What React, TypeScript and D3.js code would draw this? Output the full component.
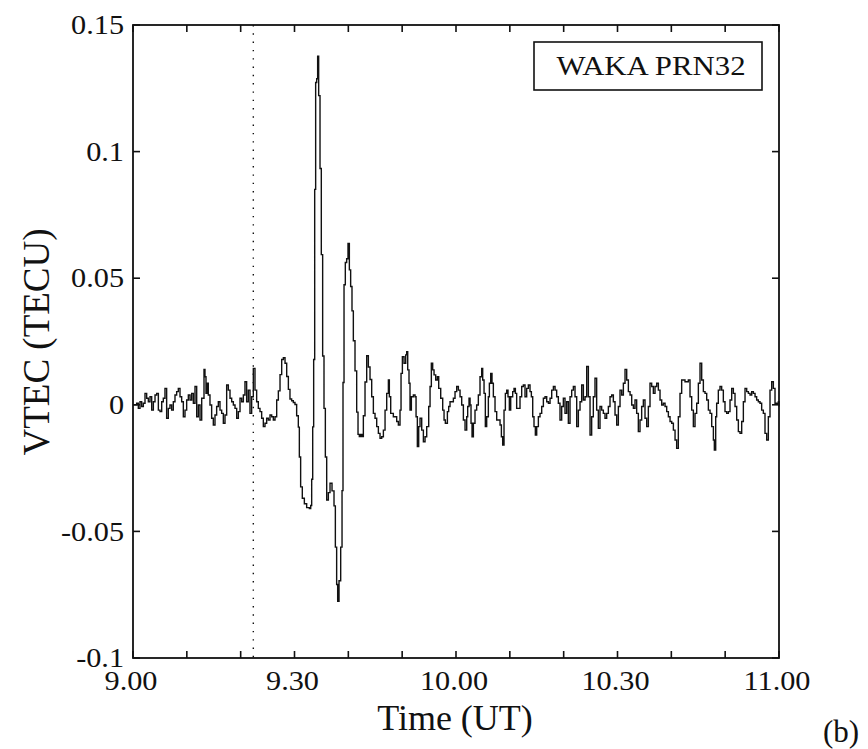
import React from "react";
import * as d3 from "d3";

// Time axis: minutes after 09:00 UT
const xTickMinutes = [0, 10, 20, 30, 40, 50, 60, 70, 80, 90, 100, 110, 120];
const xLabelMinutes = [0, 30, 60, 90, 120];
const xLabels = ["9.00", "9.30", "10.00", "10.30", "11.00"];
const yTickValues = [-0.1, -0.05, 0, 0.05, 0.1, 0.15];
const yLabels = ["-0.1", "-0.05", "0", "0.05", "0.1", "0.15"];
const eventMinute = 22.35;
const stationLabel = "WAKA PRN32";
const xTitle = "Time (UT)";
const yTitle = "VTEC (TECU)";
const panelLabel = "(b)";

// [minutes after 09:00, VTEC (TECU)]
const quietBefore: [number, number][] = [
  [0.0, 0.0], [0.68, 0.0006], [0.99, -0.0014], [1.3, 0.0012], [1.61, -0.0007], [1.92, 0.0006],
  [2.23, 0.0045], [2.54, 0.0026], [2.85, 0.0012], [3.16, 0.0032], [3.47, -0.0021], [3.78, 0.0012],
  [4.09, 0.0039], [4.4, 0.0045], [4.71, -0.0021], [5.02, -0.0027], [5.33, 0.0012], [5.63, 0.0026],
  [5.94, 0.0065], [6.25, -0.0053], [6.56, -0.0014], [6.87, -0.0001], [7.18, -0.0021], [7.49, 0.0012],
  [7.8, 0.0039], [8.11, 0.0052], [8.42, 0.0065], [8.73, 0.0032], [9.04, 0.0012], [9.35, -0.0047],
  [9.66, -0.0021], [9.97, 0.0019], [10.28, 0.0039], [10.59, 0.0019], [10.9, 0.0045], [11.21, 0.0006],
  [11.52, 0.0072], [11.83, -0.0047], [12.14, -0.0001], [12.45, -0.006], [12.76, 0.0026], [13.19, 0.014],
  [13.37, 0.0111], [13.56, 0.0045], [13.81, 0.0085], [13.99, 0.0039], [14.3, -0.0001], [14.61, -0.0053],
  [14.92, -0.008], [15.23, -0.004], [15.54, -0.0007], [15.85, 0.0012], [16.16, -0.0021], [16.47, -0.0034],
  [16.78, -0.0073], [17.09, -0.004], [17.4, 0.0078], [17.71, 0.0058], [18.02, 0.0026], [18.33, 0.0012],
  [18.64, -0.0001], [18.95, -0.0014], [19.26, -0.0053], [19.57, -0.0027], [19.88, 0.0026], [20.19, 0.0012],
  [20.5, 0.0039], [20.8, 0.0091], [21.11, 0.0012], [21.42, 0.0058], [21.73, -0.0034], [22.04, 0.0032],
  [22.35, 0.0144], [22.66, 0.0058], [22.97, 0.0012], [23.28, -0.0014], [23.59, -0.0027], [23.9, -0.0053],
  [24.21, -0.0086], [24.52, -0.0073], [24.83, -0.0053], [25.14, -0.006], [25.45, -0.004], [25.76, -0.0047],
  [26.07, -0.006], [26.38, -0.0047], [26.69, 0.0019],
];

const disturbance: [number, number][] = [
  [27.0, 0.0055], [27.31, 0.0119], [27.62, 0.0179], [27.93, 0.0186], [28.24, 0.0164], [28.55, 0.0112],
  [28.86, 0.0061], [29.16, 0.0023], [29.47, 0.0016], [29.78, 0.0009], [30.09, 0.0001], [30.4, -0.0043],
  [30.71, -0.0088], [30.9, -0.0206], [31.14, -0.0324], [31.45, -0.0369], [31.83, -0.0391], [32.26, -0.0406],
  [32.76, -0.041], [33.01, -0.0398], [33.19, -0.0294], [33.38, -0.0087], [33.56, 0.0179], [33.75, 0.0851],
  [33.93, 0.1273], [34.12, 0.1288], [34.3, 0.1377], [34.49, 0.1221], [34.74, 0.0933], [34.98, 0.0593],
  [35.23, 0.0193], [35.48, -0.0014], [35.73, -0.0206], [35.98, -0.0376], [36.29, -0.0347], [36.6, -0.031],
  [36.97, -0.034], [37.34, -0.0399], [37.59, -0.0562], [37.83, -0.071], [38.02, -0.0776], [38.27, -0.0695],
  [38.58, -0.0562], [38.83, -0.0339], [39.01, 0.0088], [39.2, 0.0474], [39.44, 0.0562], [39.69, 0.0577],
  [39.94, 0.0637], [40.19, 0.0533], [40.43, 0.0467], [40.68, 0.0371], [40.93, 0.0253], [41.24, 0.0134],
  [41.55, -0.0029], [41.8, -0.0117], [42.04, -0.0125], [42.29, -0.0117], [42.54, -0.0125], [42.79, -0.0043],
  [43.1, 0.009], [43.41, 0.0194], [43.72, 0.0149],
];

const recoveryPhase: [number, number][] = [
  [44.03, 0.01], [44.34, 0.0032], [44.65, -0.0034], [44.96, -0.0053], [45.27, -0.0086], [45.58, -0.0113],
  [45.89, -0.0132], [46.2, -0.0126], [46.51, -0.01], [46.82, -0.0021], [47.13, 0.0045], [47.44, 0.0098],
  [47.62, 0.0032], [47.87, -0.0034], [48.36, -0.0047], [48.98, -0.0066], [49.29, -0.008], [49.6, -0.0021],
  [49.79, 0.0124], [50.04, 0.019], [50.35, 0.0164], [50.66, 0.0197], [50.84, 0.021], [51.03, 0.0138],
  [51.27, 0.0085], [51.46, -0.0021], [51.71, 0.0032], [52.08, 0.0039], [52.39, 0.0032], [52.58, -0.0047],
  [52.82, -0.0165], [53.07, -0.0086], [53.32, -0.0053], [53.63, -0.01], [53.94, -0.0146], [54.25, -0.0126],
  [54.56, -0.0086], [54.93, -0.0007], [55.18, 0.0072], [55.42, 0.0164], [55.67, 0.0138], [55.92, 0.0118],
  [56.23, 0.0098], [56.54, 0.0111], [56.79, 0.0065], [57.16, 0.0026], [57.53, -0.0021], [57.78, -0.006],
  [58.02, -0.0073], [58.4, -0.0027], [58.64, -0.0007], [58.89, 0.0012], [59.2, 0.0012], [59.51, 0.0026],
  [59.82, 0.0052], [60.13, 0.0072], [60.44, 0.0058], [60.75, 0.0032], [61.06, -0.0001], [61.37, -0.006],
  [61.68, -0.01], [61.99, -0.0047], [62.17, -0.0007], [62.42, 0.0026], [62.61, -0.0001], [62.79, -0.0073],
  [62.98, -0.0126], [63.23, -0.0073], [63.53, -0.0021], [63.84, -0.0001], [64.15, 0.0039], [64.46, 0.0111],
  [64.77, 0.0144], [64.96, 0.0098], [65.21, 0.0045], [65.45, -0.0086], [65.7, -0.0047], [66.01, 0.0032],
  [66.2, 0.0085], [66.45, 0.0124], [66.69, 0.0085], [66.94, 0.0032], [67.25, -0.0027], [67.56, -0.006],
  [67.87, -0.006], [68.18, -0.008], [68.43, -0.0126], [68.67, -0.0159], [68.92, -0.0021], [69.17, 0.0045],
  [69.42, 0.0058], [69.66, 0.0032], [69.91, -0.0021], [70.16, 0.0032], [70.53, 0.0052], [70.78, 0.0065],
  [71.03, 0.0045], [71.27, -0.0014], [71.58, -0.0014], [71.89, 0.0032], [72.2, 0.0072], [72.51, 0.0078],
  [72.82, 0.0032], [73.13, 0.0065], [73.44, 0.0078], [73.75, 0.0052], [74.0, 0.0032], [74.25, -0.0047],
  [74.49, -0.0086], [74.74, -0.0119], [74.99, -0.0086], [75.3, -0.0047], [75.61, -0.0034], [75.92, -0.0007],
  [76.23, 0.0026], [76.54, 0.0032], [76.85, 0.0012], [77.16, 0.0006], [77.47, 0.0026], [77.78, 0.0058],
  [78.09, 0.0072], [78.4, 0.0058], [78.7, 0.0032], [79.01, 0.0006], [79.32, -0.006], [79.63, -0.0007],
  [79.94, 0.0026], [80.25, -0.0034], [80.56, 0.0012], [80.87, -0.0073],
];

const lateQuiet: [number, number][] = [
  [81.18, 0.0032], [81.49, 0.0058], [81.8, 0.0072], [82.11, 0.0032], [82.42, -0.0086], [82.73, -0.0021],
  [83.04, 0.0012], [83.35, 0.0078], [83.66, 0.0019], [83.97, 0.0032], [84.28, 0.0151], [84.59, 0.0032],
  [84.9, -0.0119], [85.2, -0.0047], [85.51, 0.0032], [85.82, 0.0105], [86.13, -0.0021], [86.44, -0.0093],
  [86.75, -0.0007], [87.06, -0.0021], [87.37, -0.0034], [87.68, -0.0053], [87.99, -0.0034], [88.3, -0.0007],
  [88.61, 0.0032], [88.92, 0.0039], [89.23, 0.0012], [89.54, -0.004], [89.85, -0.008], [90.16, -0.0007],
  [90.47, 0.0058], [90.78, 0.0039], [91.09, 0.0085], [91.4, 0.014], [91.71, 0.0098], [92.02, 0.0052],
  [92.33, 0.0039], [92.64, -0.0001], [92.95, -0.0014], [93.25, 0.0019], [93.56, -0.0034], [93.87, -0.0106],
  [94.18, -0.006], [94.49, -0.0007], [94.8, 0.0019], [95.11, -0.0053], [95.42, -0.0086], [95.73, -0.0007],
  [96.04, 0.0085], [96.35, 0.0072], [96.66, 0.0045], [96.97, 0.0072], [97.28, 0.0085], [97.59, 0.0058],
  [97.9, 0.0019], [98.21, -0.0001], [98.52, 0.0006], [98.83, -0.0007], [99.14, -0.0027], [99.45, -0.0047],
  [99.76, -0.0066], [100.07, -0.0073], [100.38, -0.01], [100.69, -0.0139], [100.99, -0.0172], [101.3, -0.0047],
  [101.61, 0.0045], [101.92, 0.0098], [102.23, 0.0098], [102.54, 0.0091], [102.85, 0.0091], [103.16, 0.0098],
  [103.47, 0.0032], [103.78, -0.0021], [104.09, -0.0086], [104.4, -0.0034], [104.71, 0.0006], [105.02, 0.0085],
  [105.33, 0.0164], [105.64, 0.0098], [105.95, 0.0052], [106.26, 0.0045], [106.57, 0.0019], [106.88, -0.0021],
  [107.19, -0.0034], [107.5, -0.0086], [107.81, -0.0139], [107.99, -0.0179], [108.24, -0.0047], [108.42, 0.0006],
  [108.73, 0.0058], [109.04, 0.0072], [109.35, 0.0058], [109.66, 0.0012], [109.97, -0.0027], [110.28, -0.0034],
  [110.59, -0.0027], [110.9, 0.0019], [111.21, 0.0065], [111.52, 0.0045], [111.83, -0.0007], [112.14, -0.006],
  [112.45, -0.0106], [112.76, -0.0113], [113.07, -0.0066], [113.38, 0.0012], [113.69, 0.0065], [114.0, 0.0052],
  [114.31, 0.0045], [114.62, 0.0039], [114.93, 0.0052], [115.24, 0.0045], [115.55, 0.0032], [115.85, 0.0019],
  [116.16, 0.0012], [116.47, 0.0006], [116.78, -0.0021], [117.09, -0.0034], [117.4, -0.0113], [117.71, -0.0139],
  [118.02, -0.0047], [118.33, 0.0058], [118.64, 0.0091], [118.95, 0.0065], [119.26, 0.0006], [119.57, 0.0006],
  [119.88, 0.0012], [120.0, -0.0007],
];

const FONT = "'Liberation Serif', 'Times New Roman', serif";

export default function App() {
  const W = 868;
  const H = 749;
  const left = 133, right = 779, top = 25, bottom = 658;
  const tick = 7;

  const x = d3.scaleLinear().domain([0, 120]).range([left, right]);
  const y = d3.scaleLinear().domain([-0.1, 0.15]).range([bottom, top]);

  const series = [...quietBefore, ...disturbance, ...recoveryPhase, ...lateQuiet];
  const line = d3
    .line<[number, number]>()
    .x((d) => x(d[0]))
    .y((d) => y(d[1]))
    .curve(d3.curveStepAfter);

  return (
    <svg
      width={W}
      height={H}
      viewBox={`0 0 ${W} ${H}`}
      style={{ position: "absolute", left: 0, top: 0, display: "block", background: "#fff" }}
      fontFamily={FONT}
    >
      <rect x={0} y={0} width={W} height={H} fill="#fff" />

      {/* event marker */}
      <line
        x1={x(eventMinute)}
        x2={x(eventMinute)}
        y1={top}
        y2={bottom}
        stroke="#111"
        strokeWidth={1.4}
        strokeDasharray="1.4 6.9"
      />

      {/* data */}
      <path d={line(series) || ""} fill="none" stroke="#111" strokeWidth={1.4} strokeLinejoin="miter" />

      {/* frame */}
      <rect x={left} y={top} width={right - left} height={bottom - top} fill="none" stroke="#111" strokeWidth={1.8} />

      {/* x ticks (bottom & top, inward) */}
      {xTickMinutes.map((m) => (
        <g key={"xt" + m}>
          <line x1={x(m)} x2={x(m)} y1={bottom} y2={bottom - tick} stroke="#111" strokeWidth={1.6} />
          <line x1={x(m)} x2={x(m)} y1={top} y2={top + tick} stroke="#111" strokeWidth={1.6} />
        </g>
      ))}
      {/* y ticks (left & right, inward) */}
      {yTickValues.map((v) => (
        <g key={"yt" + v}>
          <line x1={left} x2={left + tick} y1={y(v)} y2={y(v)} stroke="#111" strokeWidth={1.6} />
          <line x1={right} x2={right - tick} y1={y(v)} y2={y(v)} stroke="#111" strokeWidth={1.6} />
        </g>
      ))}

      {/* x labels */}
      {xLabelMinutes.map((m, i) => (
        <text
          key={"xl" + m}
          transform={`translate(${x(m) - 2},690) scale(1.1,1)`}
          textAnchor="middle"
          fontSize={27.5}
          fill="#111"
        >
          {xLabels[i]}
        </text>
      ))}
      {/* y labels */}
      {yTickValues.map((v, i) => (
        <text
          key={"yl" + v}
          transform={`translate(124,${y(v) + 9.2}) scale(1.1,1)`}
          textAnchor="end"
          fontSize={27.5}
          fill="#111"
        >
          {yLabels[i]}
        </text>
      ))}

      {/* axis titles */}
      <text x={455} y={730} textAnchor="middle" fontSize={36} fill="#111">
        {xTitle}
      </text>
      <text transform={`translate(49,342) rotate(-90)`} textAnchor="middle" fontSize={37} fill="#111">
        {yTitle}
      </text>

      {/* station label box */}
      <rect x={534} y={42} width={228} height={48} fill="#fff" stroke="#111" strokeWidth={1.6} />
      <text transform={`translate(651,75) scale(1.1,1)`} textAnchor="middle" fontSize={28} fill="#111">
        {stationLabel}
      </text>

      {/* panel label */}
      <text x={823} y={742} fontSize={31} fill="#111">
        {panelLabel}
      </text>
    </svg>
  );
}
